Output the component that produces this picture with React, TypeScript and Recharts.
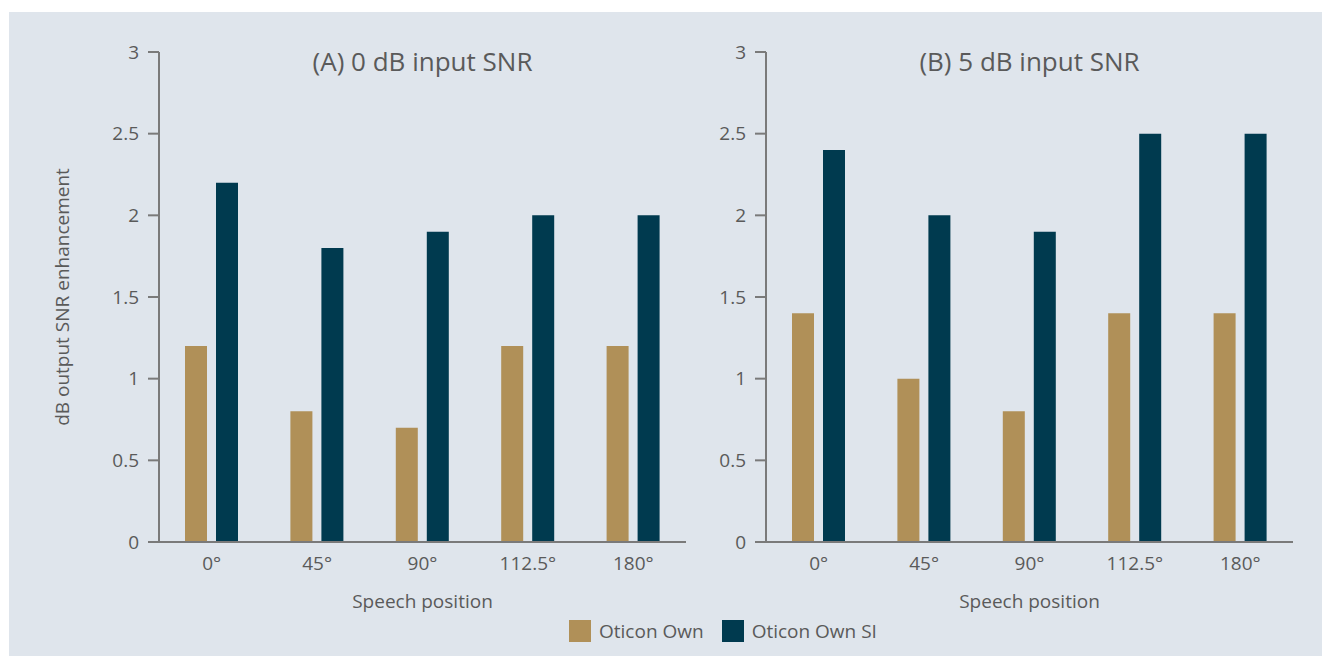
import { BarChart, Bar, XAxis, YAxis } from "recharts";

const categories = ["0°", "45°", "90°", "112.5°", "180°"];
const ownA = [1.2, 0.8, 0.7, 1.2, 1.2];
const siA = [2.2, 1.8, 1.9, 2.0, 2.0];
const ownB = [1.4, 1.0, 0.8, 1.4, 1.4];
const siB = [2.4, 2.0, 1.9, 2.5, 2.5];
const yTicks = [0, 0.5, 1, 1.5, 2, 2.5, 3];

const OWN_COLOR = "#b09058";
const SI_COLOR = "#003a4f";
const AXIS_COLOR = "#7a7a7a";
const TEXT_COLOR = "#5a5a5a";
const FONT = "'Open Sans', sans-serif";

const buildRows = (own: number[], si: number[]) =>
    categories.map((c, i) => ({ pos: c, own: own[i], si: si[i] }));

function Panel({ data, title, left }: { data: { pos: string; own: number; si: number }[]; title: string; left: number }) {
    return (
        <div style={{ position: "absolute", left, top: 0, width: 690, height: 620 }}>
            <div
                style={{
                    position: "absolute", left: 150, width: 527, top: 33, textAlign: "center",
                    fontSize: 26, color: TEXT_COLOR, fontFamily: FONT, lineHeight: "32px",
                }}
            >
                {title}
            </div>
            <BarChart
                width={690}
                height={590}
                data={data}
                margin={{ top: 40, right: 13, left: 0, bottom: 0 }}
                barSize={22}
                barGap={9}
            >
                <XAxis
                    dataKey="pos"
                    height={60}
                    tickLine={false}
                    tickSize={0}
                    tickMargin={15}
                    axisLine={{ stroke: AXIS_COLOR, strokeWidth: 2 }}
                    tick={{ fill: TEXT_COLOR, fontSize: 19, fontFamily: FONT }}
                />
                <YAxis
                    width={150}
                    domain={[0, 3]}
                    ticks={yTicks}
                    tickSize={11}
                    tickMargin={9}
                    axisLine={{ stroke: AXIS_COLOR, strokeWidth: 2 }}
                    tickLine={{ stroke: AXIS_COLOR, strokeWidth: 2 }}
                    tick={{ fill: TEXT_COLOR, fontSize: 19, fontFamily: FONT }}
                />
                <Bar dataKey="own" fill={OWN_COLOR} isAnimationActive={false} />
                <Bar dataKey="si" fill={SI_COLOR} isAnimationActive={false} />
            </BarChart>
            <div
                style={{
                    position: "absolute", left: 150, width: 527, top: 577, textAlign: "center",
                    fontSize: 19, color: TEXT_COLOR, fontFamily: FONT, lineHeight: "24px",
                }}
            >
                Speech position
            </div>
        </div>
    );
}

export default function App() {
    const swatch = (color: string) => (
        <span style={{ display: "inline-block", width: 22, height: 22, background: color, marginRight: 8 }} />
    );

    return (
        <div
            style={{
                position: "absolute", left: 9, top: 12, width: 1313, height: 644,
                background: "#dfe5ec", overflow: "hidden",
            }}
        >
            <Panel data={buildRows(ownA, siA)} title="(A) 0 dB input SNR" left={0} />
            <Panel data={buildRows(ownB, siB)} title="(B) 5 dB input SNR" left={607} />

            {/* rotated y axis label for the left panel */}
            <div style={{ position: "absolute", left: 53, top: 285, width: 0, height: 0 }}>
                <div
                    style={{
                        position: "absolute", transform: "translate(-50%, -50%) rotate(-90deg)",
                        whiteSpace: "nowrap", fontSize: 19, color: TEXT_COLOR, fontFamily: FONT,
                    }}
                >
                    dB output SNR enhancement
                </div>
            </div>

            <div
                style={{
                    position: "absolute", left: 560, top: 606, display: "flex", alignItems: "center",
                    fontSize: 19, color: TEXT_COLOR, fontFamily: FONT,
                }}
            >
                {swatch(OWN_COLOR)}
                <span style={{ marginRight: 18 }}>Oticon Own</span>
                {swatch(SI_COLOR)}
                <span>Oticon Own SI</span>
            </div>
        </div>
    );
}
